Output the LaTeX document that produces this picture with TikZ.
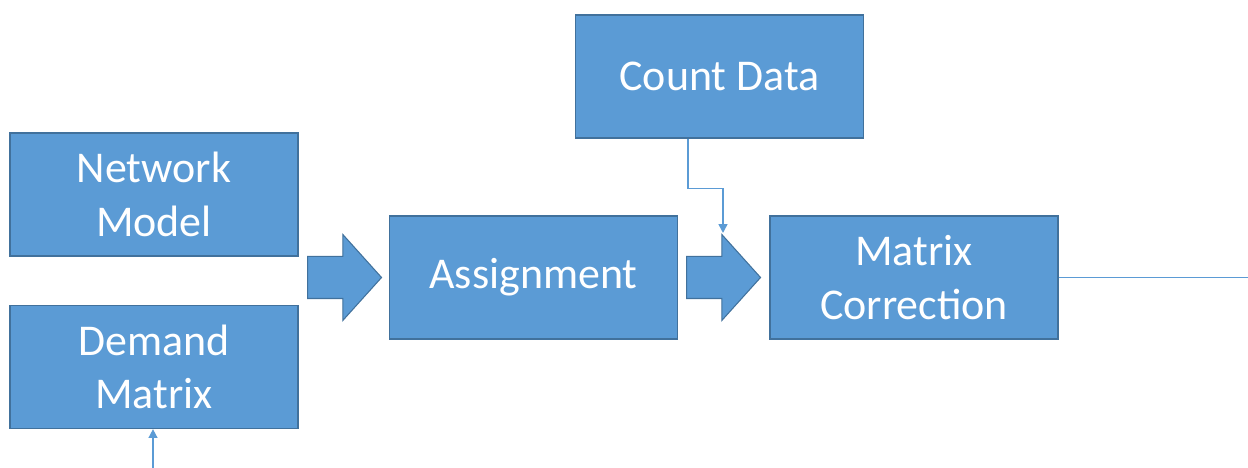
\documentclass[tikz,border=0pt]{standalone}
\usepackage{fontspec}
\setmainfont{Carlito}
\usepackage{tikz}
\usetikzlibrary{arrows.meta, positioning, shapes.arrows}

\definecolor{boxblue}{HTML}{5B9BD5}
\definecolor{edgeblue}{HTML}{41719C}

\begin{document}
\begin{tikzpicture}[
        node distance=1.0cm,
        block/.style={rectangle, draw=edgeblue, line width=0.8pt, fill=boxblue, text=white,
                      minimum width=5.76cm, minimum height=2.46cm, text centered,
                      align=center, font=\fontsize{25}{30.6}\selectfont},
        bigarrow/.style={single arrow, draw=edgeblue, line width=0.6pt, fill=boxblue,
                         minimum height=1.48cm, inner xsep=0pt, inner ysep=0.41cm,
                         single arrow head extend=0.44cm, single arrow tip angle=96,
                         anchor=tail},
        link/.style={draw=boxblue, line width=0.9pt},
        arrow/.style={link, -{Triangle[width=5pt, length=5pt]}}
    ]
        \useasboundingbox (0,0) rectangle (24.96,9.36);

        \node[block] (network) at (3.08,5.47) {Network\\Model};
        \node[block, below=0.96cm of network] (demand) {Demand\\Matrix};
        \node[bigarrow] (arrowone) at (6.14,3.81) {};
        \node[block] (assign) at (10.67,3.81) {Assignment};
        \node[bigarrow] (arrowtwo) at (13.72,3.81) {};
        \node[block] (matcorr) at (18.28,3.81) {Matrix\\Correction};
        \node[block] (count) at (14.39,7.83) {Count Data};

        \coordinate (cdend) at (14.46,4.70);
        \coordinate (rightend) at (24.96,3.81);
        \coordinate (demandin) at (3.06,0);

        \draw[arrow] ([xshift=-0.63cm]count.south) -- ++(0,-1.0) -| (cdend);
        \draw[link] (matcorr.east) -- (rightend);
        \draw[arrow] (demandin) -- (demandin |- demand.south);
    \end{tikzpicture}
\end{document}
